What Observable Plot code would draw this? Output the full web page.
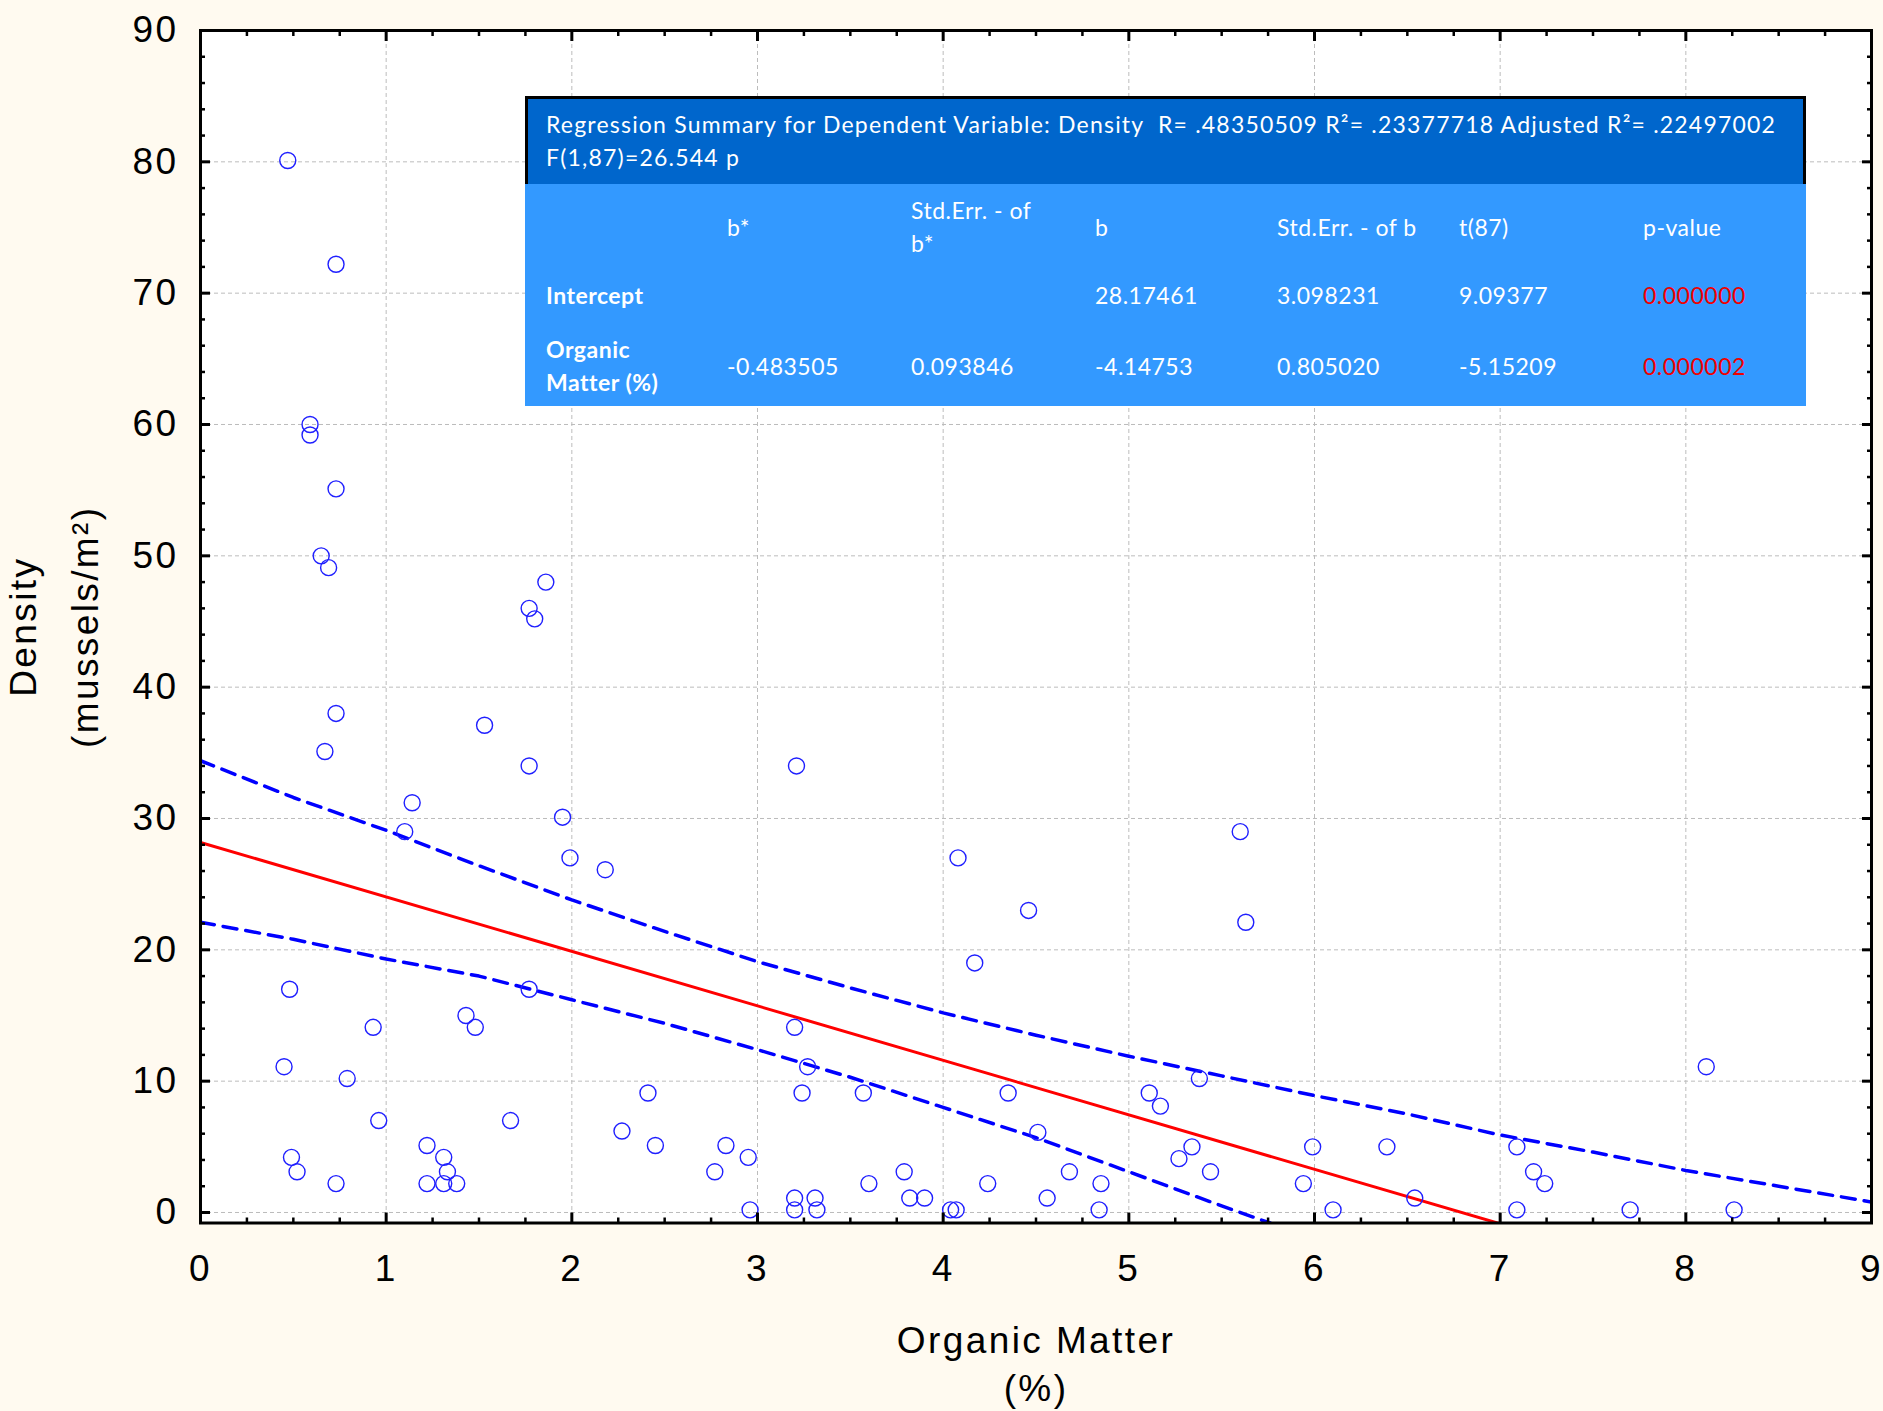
<!DOCTYPE html>
<html>
<head>
<meta charset="utf-8">
<script src="https://cdn.jsdelivr.net/npm/d3@7"></script>
<script src="https://cdn.jsdelivr.net/npm/@observablehq/plot@0.6"></script>
<style>
html, body { margin: 0; padding: 0; background: #fffaf0; }
#wrap { position: relative; width: 1883px; height: 1411px; overflow: hidden; background: #fffaf0; }
#tbl { position: absolute; left: 525px; top: 96px; width: 1281px; height: 310px; font-family: Lato, "Open Sans", sans-serif; font-size: 23px; color: #ffffff; }
#tbl .head { position: absolute; left: 0; top: 0; width: 1281px; height: 88px; background: #0066cc; box-sizing: border-box; border-top: 3px solid #000; border-left: 3px solid #000; border-right: 3px solid #000; }
#tbl .headline { position: absolute; left: -3px; bottom: -3px; width: 184px; height: 3px; background: #000; }
#tbl .body { position: absolute; left: 0; top: 88px; width: 1281px; height: 222px; background: #3399ff; }
#tbl .t { position: absolute; white-space: pre; line-height: 33px; letter-spacing: 1.2px; }
#tbl .cell { position: absolute; white-space: pre; line-height: 33px; letter-spacing: 0.5px; transform: translateY(-50%); }
#tbl .bold { font-weight: 700; }
#tbl .red { color: #f00000; }
</style>
</head>
<body>
<div id="wrap"></div>
<script>
// ---- data ----
const organicMatter = [
  0.47, 0.73, 0.59, 0.59, 0.73, 0.65, 0.69, 1.77, 1.80, 1.86,
  0.73, 1.53, 0.67, 1.77, 3.21, 1.14, 1.10, 1.95, 1.99, 2.18,
  5.60, 4.08, 4.46, 5.63, 4.17, 0.48, 1.77, 1.43, 1.48, 0.93,
  3.20, 3.27, 0.45, 8.11, 0.79, 5.38, 2.41, 3.24, 3.57, 4.35,
  5.11, 5.17, 0.96, 1.67, 2.27, 4.51, 1.22, 2.45, 2.83, 5.34,
  5.99, 6.39, 7.09, 0.49, 1.31, 2.95, 5.27, 0.52, 1.33, 2.77,
  3.79, 4.68, 5.44, 7.18, 0.73, 1.22, 1.31, 1.38, 3.60, 4.24,
  4.85, 5.94, 7.24, 3.20, 3.31, 3.82, 3.90, 4.56, 6.54, 2.96,
  3.20, 3.32, 4.04, 4.07, 4.84, 6.10, 7.09, 7.70, 8.26
];
const density = [
  80.1, 72.2, 60.0, 59.2, 55.1, 50.0, 49.1, 46.0, 45.2, 48.0,
  38.0, 37.1, 35.1, 34.0, 34.0, 31.2, 29.0, 30.1, 27.0, 26.1,
  29.0, 27.0, 23.0, 22.1, 19.0, 17.0, 17.0, 15.0, 14.1, 14.1,
  14.1, 11.1, 11.1, 11.1, 10.2, 10.2, 9.1, 9.1, 9.1, 9.1,
  9.1, 8.1, 7.0, 7.0, 6.2, 6.1, 5.1, 5.1, 5.1, 5.0,
  5.0, 5.0, 5.0, 4.2, 4.2, 4.2, 4.1, 3.1, 3.1, 3.1,
  3.1, 3.1, 3.1, 3.1, 2.2, 2.2, 2.2, 2.2, 2.2, 2.2,
  2.2, 2.2, 2.2, 1.1, 1.1, 1.1, 1.1, 1.1, 1.1, 0.2,
  0.2, 0.2, 0.2, 0.2, 0.2, 0.2, 0.2, 0.2, 0.2
];
// 95% confidence band (dashed)
const upperBandX = [0, 0.5, 1, 1.5, 2, 2.5, 3, 3.5, 4, 4.5, 5, 5.5, 6, 6.5, 7, 7.5, 8, 8.5, 9];
const upperBandY = [34.4, 31.6, 29.1, 26.4, 23.8, 21.4, 19.1, 17.1, 15.2, 13.5, 11.9, 10.4, 8.9, 7.5, 5.9, 4.6, 3.2, 2.0, 0.8];
const lowerBandX = [0, 0.5, 1, 1.5, 2, 2.5, 3, 3.5, 4, 4.5, 5, 5.5, 5.8];
const lowerBandY = [22.1, 20.8, 19.3, 18.0, 16.2, 14.4, 12.4, 10.3, 8.0, 5.7, 3.1, 0.5, -1.0];
// regression coefficients (from the summary table)
const intercept = 28.17461;
const slope = -4.14753;

// axes
const xTickLabels = [0, 1, 2, 3, 4, 5, 6, 7, 8, 9];
const yTickLabels = [0, 10, 20, 30, 40, 50, 60, 70, 80, 90];
const xTitle = "Organic Matter";
const xTitle2 = "(%)";
const yTitle = "Density";
const yTitle2 = "(mussels/m²)";

// summary table
const tableTitle = [
  "Regression Summary for Dependent Variable: Density  R= .48350509 R²= .23377718 Adjusted R²= .22497002",
  "F(1,87)=26.544 p"
];
const tableHeader = ["", "b*", "Std.Err. - of\nb*", "b", "Std.Err. - of b", "t(87)", "p-value"];
const tableRowLabels = ["Intercept", "Organic\nMatter (%)"];
const tableRows = [
  ["", "", "28.17461", "3.098231", "9.09377", "0.000000"],
  ["-0.483505", "0.093846", "-4.14753", "0.805020", "-5.15209", "0.000002"]
];

// ---- chart ----
const points = organicMatter.map((x, i) => ({x, y: density[i]}));
const upper = upperBandX.map((x, i) => ({x, y: upperBandY[i]}));
const lower = lowerBandX.map((x, i) => ({x, y: lowerBandY[i]}));
const xDomain = [0, 9];
const yDomain = [-0.8, 90];
const fitX = xDomain;

const xMinor = d3.range(0, 9.0001, 0.25).filter(v => Math.abs(v - Math.round(v)) > 1e-6);
const yMinor = d3.range(0, 90.0001, 2).filter(v => v % 10 !== 0);

const tickStroke = {stroke: "black", fill: "none", label: null};
const fmt = d => String(d);

const chart = Plot.plot({
  width: 1883,
  height: 1411,
  marginLeft: 200,
  marginRight: 12,
  marginTop: 30,
  marginBottom: 188.5,
  style: {background: "transparent", fontFamily: "'Liberation Sans', Arial, sans-serif", fontSize: "37px", color: "black", overflow: "visible"},
  x: {domain: xDomain, axis: null},
  y: {domain: yDomain, axis: null},
  marks: [
    Plot.frame({fill: "white", stroke: null}),
    Plot.gridX(xTickLabels.slice(1, -1), {stroke: "#bcbcbc", strokeOpacity: 1, strokeWidth: 1, strokeDasharray: "4,3"}),
    Plot.gridY(yTickLabels, {stroke: "#bcbcbc", strokeOpacity: 1, strokeWidth: 1, strokeDasharray: "4,3"}),
    Plot.line(upper, {x: "x", y: "y", stroke: "#0000ff", strokeWidth: 3.5, strokeDasharray: "14,9", clip: true}),
    Plot.line(lower, {x: "x", y: "y", stroke: "#0000ff", strokeWidth: 3.5, strokeDasharray: "14,9", clip: true}),
    Plot.line(fitX, {x: d => d, y: d => intercept + slope * d, stroke: "#ff0000", strokeWidth: 3, clip: true}),
    Plot.dot(points, {x: "x", y: "y", r: 8, stroke: "#1f1fff", strokeWidth: 1.4, fill: "none"}),
    // inward ticks on all four sides
    Plot.axisY(yMinor, {anchor: "left", tickSize: -5, strokeWidth: 2.5, ...tickStroke}),
    Plot.axisY(yTickLabels, {anchor: "left", tickSize: -10, strokeWidth: 3, ...tickStroke}),
    Plot.axisY(yMinor, {anchor: "right", tickSize: -5, strokeWidth: 2.5, ...tickStroke}),
    Plot.axisY(yTickLabels, {anchor: "right", tickSize: -10, strokeWidth: 3, ...tickStroke}),
    Plot.axisX(xMinor, {anchor: "bottom", tickSize: -5, strokeWidth: 2.5, ...tickStroke}),
    Plot.axisX(xTickLabels, {anchor: "bottom", tickSize: -10, strokeWidth: 3, ...tickStroke}),
    Plot.axisX(xMinor, {anchor: "top", tickSize: -5, strokeWidth: 2.5, ...tickStroke}),
    Plot.axisX(xTickLabels, {anchor: "top", tickSize: -10, strokeWidth: 3, ...tickStroke}),
    // tick labels
    Plot.axisY(yTickLabels, {anchor: "left", tickSize: 0, tickPadding: 22, label: null, fontSize: 37, tickFormat: fmt}),
    Plot.axisX(xTickLabels, {anchor: "bottom", tickSize: 0, tickPadding: 32, label: null, fontSize: 37, tickFormat: fmt}),
    Plot.frame({stroke: "black", strokeWidth: 3}),
    // axis titles
    Plot.text([xTitle], {frameAnchor: "bottom", dy: 130, lineAnchor: "bottom", textAnchor: "middle", fontSize: 37}),
    Plot.text([xTitle2], {frameAnchor: "bottom", dy: 178, lineAnchor: "bottom", textAnchor: "middle", fontSize: 37}),
    Plot.text([yTitle], {frameAnchor: "left", dx: -165, rotate: -90, lineAnchor: "bottom", textAnchor: "middle", fontSize: 37}),
    Plot.text([yTitle2], {frameAnchor: "left", dx: -103, rotate: -90, lineAnchor: "bottom", textAnchor: "middle", fontSize: 37})
  ]
});
chart.style.letterSpacing = "2.4px";

const wrap = document.getElementById("wrap");
wrap.appendChild(chart);

// ---- summary table overlay ----
const tbl = document.createElement("div");
tbl.id = "tbl";
const head = document.createElement("div");
head.className = "head";
const hl = document.createElement("div");
hl.className = "headline";
head.appendChild(hl);
tbl.appendChild(head);
const body = document.createElement("div");
body.className = "body";
tbl.appendChild(body);

const titleTops = [12, 45];
tableTitle.forEach((s, i) => {
  const d = document.createElement("div");
  d.className = "t";
  d.style.left = "21px";
  d.style.top = titleTops[i] + "px";
  d.textContent = s;
  tbl.appendChild(d);
});

const colLeft = [21, 202, 386, 570, 752, 934, 1118];
const rowCenter = [131, 199, 270];
function cell(text, col, row, cls) {
  const d = document.createElement("div");
  d.className = "cell" + (cls ? " " + cls : "");
  d.style.left = colLeft[col] + "px";
  d.style.top = rowCenter[row] + "px";
  d.textContent = text;
  tbl.appendChild(d);
}
tableHeader.forEach((h, c) => { if (h) cell(h, c, 0); });
tableRowLabels.forEach((lab, r) => {
  cell(lab, 0, r + 1, "bold");
  tableRows[r].forEach((v, c) => {
    if (v) cell(v, c + 1, r + 1, c === 5 ? "red" : "");
  });
});
wrap.appendChild(tbl);
</script>
</body>
</html>
